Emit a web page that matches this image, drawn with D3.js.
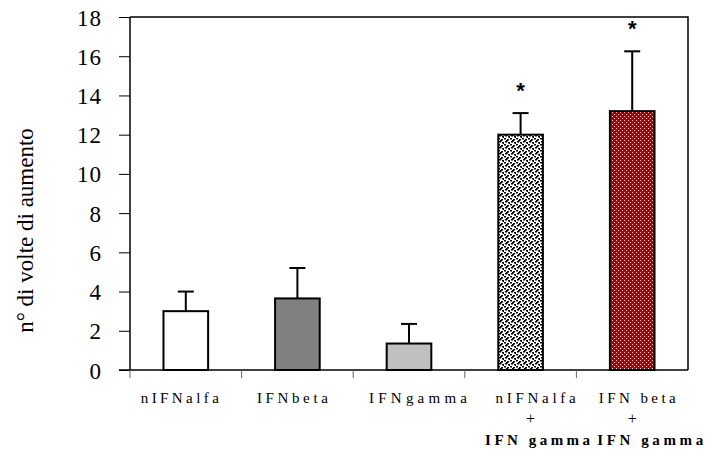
<!DOCTYPE html>
<html>
<head>
<meta charset="utf-8">
<script src="https://cdn.jsdelivr.net/npm/d3@7/dist/d3.min.js"></script>
<style>
  html, body { margin: 0; padding: 0; background: #fff; }
  svg { display: block; }
</style>
</head>
<body>
<svg id="chart" width="707" height="455"></svg>
<script>
// Fold increase per treatment, with standard deviation
const categories = ["nIFNalfa", "IFNbeta", "IFNgamma", "nIFNalfa+IFNgamma", "IFNbeta+IFNgamma"];
const labelLines = [
  ["nIFNalfa"],
  ["IFNbeta"],
  ["IFNgamma"],
  ["nIFNalfa", "+", "IFN gamma"],
  ["IFN beta", "+", "IFN gamma"]
];
const values = [3.0, 3.65, 1.35, 12.0, 13.2];
const errors = [1.0, 1.55, 1.0, 1.1, 3.05];
const significant = [false, false, false, true, true];
const yTicks = [0, 2, 4, 6, 8, 10, 12, 14, 16, 18];
const yLabel = "n° di volte di aumento";

const SERIF = "Liberation Serif";

const svg = d3.select("#chart");
const margin = { left: 130, right: 19, top: 17, bottom: 85 };
const W = 707, H = 455;

const x = d3.scaleBand().domain(categories)
  .range([margin.left, W - margin.right]).paddingInner(0.6).paddingOuter(0.3);
const band = d3.scaleBand().domain(categories).range([margin.left, W - margin.right]);
const y = d3.scaleLinear().domain([0, 18]).range([H - margin.bottom, margin.top]);

// Fill patterns
const defs = svg.append("defs");
const dots = defs.append("pattern").attr("id", "dotsBW")
  .attr("patternUnits", "userSpaceOnUse").attr("width", 6).attr("height", 6);
dots.append("rect").attr("width", 6).attr("height", 6).attr("fill", "#fff");
[[0,0],[3,1],[1,3],[4,4],[2,2],[5,5]].forEach(([px, py]) => {
  dots.append("rect").attr("x", px).attr("y", py).attr("width", 2).attr("height", 1.5).attr("fill", "#000");
});
const red = defs.append("pattern").attr("id", "dotsRed")
  .attr("patternUnits", "userSpaceOnUse").attr("width", 4).attr("height", 4);
red.append("rect").attr("width", 4).attr("height", 4).attr("fill", "#9a0a0a");
red.append("rect").attr("x", 0).attr("y", 0).attr("width", 1).attr("height", 1).attr("fill", "#f3dada");
red.append("rect").attr("x", 2).attr("y", 2).attr("width", 1).attr("height", 1).attr("fill", "#f3dada");

const fills = ["#ffffff", "#808080", "#c0c0c0", "url(#dotsBW)", "url(#dotsRed)"];

// Frame top and right
svg.append("path")
  .attr("d", `M${margin.left},${y(18)}H${W - margin.right}V${y(0)}`)
  .attr("fill", "none").attr("stroke", "#000").attr("stroke-width", 1.5);

// Error bars (upper only)
const eb = svg.append("g");
categories.forEach((c, i) => {
  const cx = x(c) + x.bandwidth() / 2;
  eb.append("line").attr("x1", cx).attr("x2", cx)
    .attr("y1", y(values[i])).attr("y2", y(values[i] + errors[i]))
    .attr("stroke", "#000").attr("stroke-width", 2);
  eb.append("line").attr("x1", cx - 8).attr("x2", cx + 8)
    .attr("y1", y(values[i] + errors[i])).attr("y2", y(values[i] + errors[i]))
    .attr("stroke", "#000").attr("stroke-width", 2);
});

// Bars
svg.append("g").selectAll("rect").data(categories).join("rect")
  .attr("x", c => x(c))
  .attr("y", (c, i) => y(values[i]))
  .attr("width", x.bandwidth())
  .attr("height", (c, i) => y(0) - y(values[i]))
  .attr("fill", (c, i) => fills[i])
  .attr("stroke", "#000").attr("stroke-width", 2);

// Significance markers
svg.append("g").selectAll("text").data(categories.filter((c, i) => significant[i])).join("text")
  .attr("x", c => x(c) + x.bandwidth() / 2)
  .attr("y", c => { const i = categories.indexOf(c); return y(values[i] + errors[i]) - 15; })
  .attr("text-anchor", "middle")
  .attr("font-family", "Liberation Sans")
  .attr("font-size", 22).attr("font-weight", "bold")
  .text("*");

// Y axis
const yAxis = svg.append("g").attr("transform", `translate(${margin.left},0)`)
  .call(d3.axisLeft(y).tickValues(yTicks).tickSize(11).tickPadding(17));
yAxis.attr("font-family", SERIF).attr("font-size", 23);
yAxis.select(".domain").attr("stroke", "#000").attr("stroke-width", 1.5)
  .attr("d", `M0,${y(18)}V${y(0)}`);
yAxis.selectAll(".tick line").attr("stroke", "#000").attr("stroke-width", 1);
yAxis.selectAll(".tick text")
  .attr("font-family", SERIF)
  .attr("font-size", 23).attr("letter-spacing", 1).attr("fill", "#000").attr("dy", "0.35em");

// X axis
const xAxis = svg.append("g").attr("transform", `translate(0,${y(0)})`);
xAxis.append("line").attr("x1", margin.left - 11).attr("x2", W - margin.right)
  .attr("y1", 0).attr("y2", 0).attr("stroke", "#000").attr("stroke-width", 1.5);
const bounds = categories.map(c => band(c));
xAxis.selectAll("line.xt").data(bounds).join("line")
  .attr("class", "xt").attr("x1", d => d).attr("x2", d => d)
  .attr("y1", 0).attr("y2", 8).attr("stroke", "#666").attr("stroke-width", 1);

// Category labels: horizontal shift from bar centre and stretched width per line
const labelFit = [
  [[-6, 78]],
  [[-5, 71]],
  [[9, 98]],
  [[15, 80], [10, null], [17, 105]],
  [[5, 77], [0, null], [18, 106]]
];
const lbl = svg.append("g");
labelLines.forEach((lines, i) => {
  const cx = x(categories[i]) + x.bandwidth() / 2;
  lines.forEach((t, j) => {
    const [dx, w] = labelFit[i][j];
    const tx = lbl.append("text").attr("x", cx + dx).attr("y", y(0) + 33 + j * 21)
      .attr("text-anchor", "middle")
      .attr("font-family", SERIF).attr("font-size", j === 1 ? 16 : 15).attr("fill", "#000")
      .attr("font-weight", j === 2 ? "bold" : "normal")
      .text(t);
    if (w) tx.attr("textLength", w).attr("lengthAdjust", "spacing");
  });
});

// Y axis title
svg.append("text")
  .attr("transform", `translate(33,${(y(0) + y(18)) / 2 + 37}) rotate(-90)`)
  .attr("text-anchor", "middle")
  .attr("font-family", SERIF)
  .attr("font-size", 23).attr("fill", "#000")
  .text(yLabel);
</script>
</body>
</html>
